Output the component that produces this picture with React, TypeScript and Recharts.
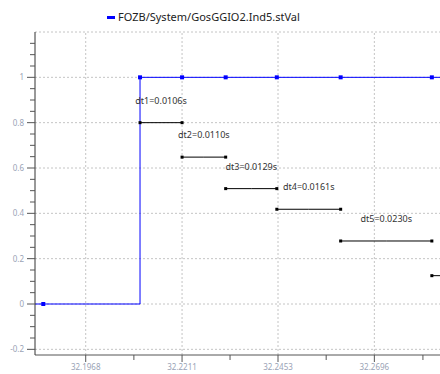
import React from 'react';
import { ComposedChart, Line, XAxis, YAxis, ReferenceLine, Legend } from 'recharts';

const seriesName = 'FOZB/System/GosGGIO2.Ind5.stVal';

// step signal (time in s, value)
const stepTimes = [32.1800, 32.1861, 32.2105, 32.2211, 32.2321, 32.2450, 32.2611, 32.2841, 32.3000];
const stepValues = [0, 0, 1, 1, 1, 1, 1, 1, 1];

// dt annotation segments
const dtLabels = ['dt1=0.0106s', 'dt2=0.0110s', 'dt3=0.0129s', 'dt4=0.0161s', 'dt5=0.0230s', ''];
const dtStart = [32.2105, 32.2211, 32.2321, 32.2450, 32.2611, 32.2841];
const dtEnd = [32.2211, 32.2321, 32.2450, 32.2611, 32.2841, 32.3100];
const dtLevel = [0.8, 0.648, 0.509, 0.418, 0.278, 0.125];

// axes
const xMajorTicks = [32.1968, 32.2211, 32.2453, 32.2696];
const xTickLabels = ['32.1968', '32.2211', '32.2453', '32.2696'];
const xMinorTicks = [32.20895, 32.2332, 32.25745, 32.28185];
const yMajorTicks = [-0.2, 0, 0.2, 0.4, 0.6, 0.8, 1];
const yTickLabels = ['-0.2', '0', '0.2', '0.4', '0.6', '0.8', '1'];
const yMinorTicks = [-0.15, -0.1, -0.05, 0.05, 0.1, 0.15, 0.25, 0.3, 0.35, 0.45, 0.5, 0.55, 0.65, 0.7, 0.75, 0.85, 0.9, 0.95, 1.05, 1.1, 1.15];
const yGridValues = [-0.2, 0, 0.2, 0.4, 0.6, 0.8, 1, 1.2];

const xDomain = [32.18401, 32.2912];
const yDomain = [-0.225, 1.2];

const stepData = stepTimes.map((t, i) => ({ t, v: stepValues[i] }));
const segData = dtStart.map((s, i) => [
  { t: s, v: dtLevel[i], end: true },
  { t: (s + dtEnd[i]) / 2, v: dtLevel[i], end: false, label: dtLabels[i] },
  { t: dtEnd[i], v: dtLevel[i], end: true },
]);

const FONT = '"Noto Sans", "Open Sans", sans-serif';
const TICK_COLOR = '#9aa3b6';
const GRID = '#c4c4c4';

const findIdx = (arr: number[], v: number) => arr.findIndex((a) => Math.abs(a - v) < 1e-6);

const XTick = (props: any) => {
  const { x, y, payload } = props;
  const i = findIdx(xMajorTicks, payload.value);
  const major = i >= 0;
  return (
    <g>
      <line x1={x} x2={x} y1={y} y2={y + (major ? 7 : 5)} stroke="#555" strokeWidth={1} />
      {major && (
        <text x={x} y={y + 15} textAnchor="middle" fontSize={8} fill={TICK_COLOR} fontFamily={FONT}>
          {xTickLabels[i]}
        </text>
      )}
    </g>
  );
};

const YTick = (props: any) => {
  const { x, y, payload } = props;
  const i = findIdx(yMajorTicks, payload.value);
  const major = i >= 0;
  return (
    <g>
      <line x1={x - (major ? 8 : 5)} x2={x} y1={y} y2={y} stroke="#555" strokeWidth={1} />
      {major && (
        <text x={x - 11} y={y + 3} textAnchor="end" fontSize={8} fill={TICK_COLOR} fontFamily={FONT}>
          {yTickLabels[i]}
        </text>
      )}
    </g>
  );
};

const BlueDot = (props: any) => {
  const { cx, cy, index } = props;
  if (cx == null || cy == null) return <g key={index} />;
  return <rect key={index} x={cx - 2} y={cy - 2} width={4} height={4} fill="#0000ff" />;
};

const SegDot = (props: any) => {
  const { cx, cy, index, payload } = props;
  if (cx == null || cy == null || !payload || !payload.end) return <g key={index} />;
  return <rect key={index} x={cx - 1.5} y={cy - 1.5} width={3} height={3} fill="#000" />;
};

const SegLabel = (props: any) => {
  const { x, y, index, data } = props;
  if (index !== 1) return null;
  return null;
};

const makeLabel = (text: string) => (props: any) => {
  const { x, y, index } = props;
  if (index !== 1 || !text) return <g />;
  return (
    <text x={x} y={y - 19} textAnchor="middle" fontSize={9} fill="#333" fontFamily={FONT}>
      {text}
    </text>
  );
};

const LegendContent = () => (
  <div style={{ paddingLeft: 107, paddingTop: 10, display: 'flex', alignItems: 'center', fontFamily: FONT, fontSize: 11, color: '#222', lineHeight: '14px' }}>
    <span style={{ display: 'inline-block', width: 8, height: 3, background: '#0000ff', marginRight: 3 }} />
    <span>{seriesName}</span>
  </div>
);

export default function App() {
  return (
    <div style={{ position: 'absolute', left: 0, top: 0, width: 440, height: 374, overflow: 'hidden', background: '#fff' }}>
      <ComposedChart width={470} height={374} margin={{ top: 0, right: 10, bottom: 0, left: 0 }}>
        <Legend verticalAlign="top" height={32} content={<LegendContent />} wrapperStyle={{ left: 0, top: 0, width: 440 }} />
        <XAxis
          dataKey="t"
          type="number"
          domain={xDomain}
          allowDataOverflow
          ticks={[...xMajorTicks, ...xMinorTicks].sort((a, b) => a - b)}
          interval={0}
          tick={<XTick />}
          tickLine={false}
          tickSize={0}
          tickMargin={0}
          height={19}
          axisLine={{ stroke: '#555' }}
        />
        <YAxis
          type="number"
          domain={yDomain}
          allowDataOverflow
          ticks={[...yMajorTicks, ...yMinorTicks].sort((a, b) => a - b)}
          interval={0}
          tick={<YTick />}
          tickLine={false}
          tickSize={0}
          tickMargin={0}
          width={35}
          axisLine={{ stroke: '#333' }}
        />
        {xMajorTicks.map((v) => (
          <ReferenceLine key={'gx' + v} x={v} stroke={GRID} strokeDasharray="2 2" />
        ))}
        {yGridValues.map((v) => (
          <ReferenceLine key={'gy' + v} y={v} stroke={GRID} strokeDasharray="2 2" />
        ))}
        <Line
          data={stepData}
          dataKey="v"
          type="stepAfter"
          stroke="#0000ff"
          strokeWidth={1}
          dot={<BlueDot />}
          activeDot={false}
          isAnimationActive={false}
        />
        {segData.map((d, i) => (
          <Line
            key={'seg' + i}
            data={d}
            dataKey="v"
            type="linear"
            stroke="#000"
            strokeWidth={1}
            dot={<SegDot />}
            activeDot={false}
            label={makeLabel(dtLabels[i])}
            isAnimationActive={false}
          />
        ))}
      </ComposedChart>
    </div>
  );
}
